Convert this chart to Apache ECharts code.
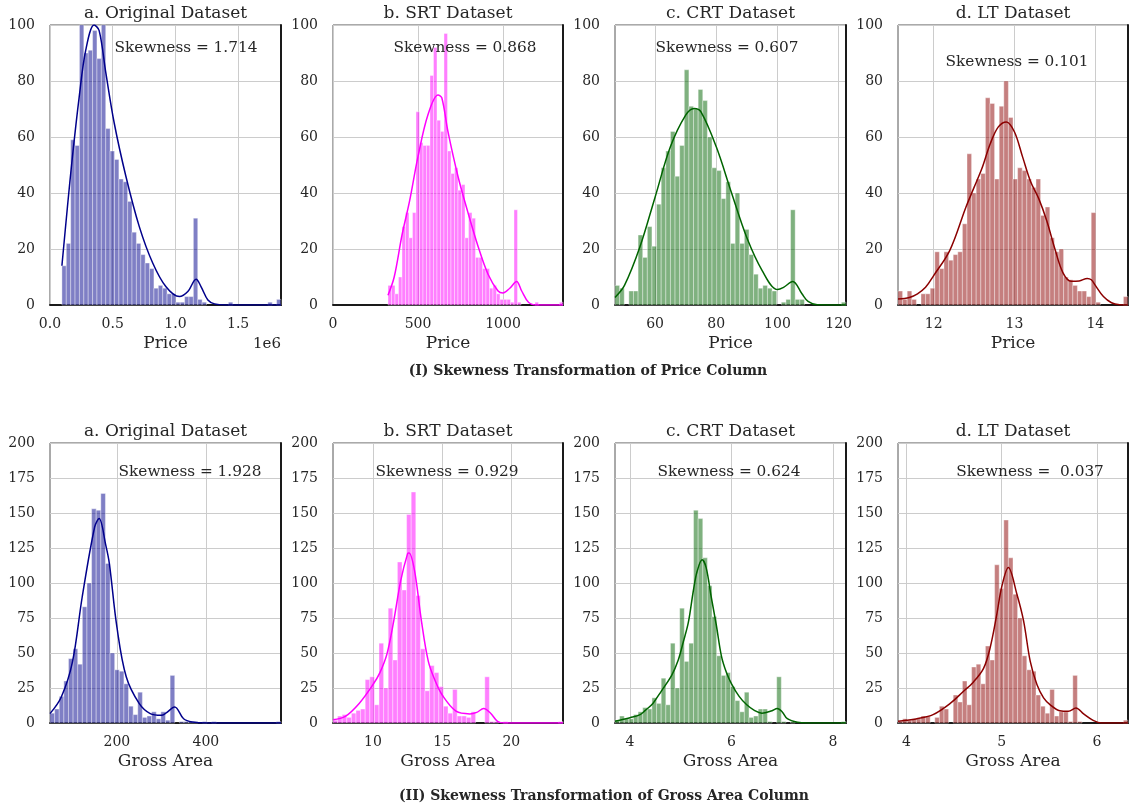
<!DOCTYPE html>
<html><head><meta charset="utf-8">
<script src="https://cdn.jsdelivr.net/npm/echarts@6/dist/echarts.min.js"></script>
<style>html,body{margin:0;padding:0;background:#fff}#c{width:1131px;height:808px}</style>
</head><body><div id="c"></div>
<script>
// ---------------- DATA ----------------
const panelTitles = ['a. Original Dataset', 'b. SRT Dataset', 'c. CRT Dataset', 'd. LT Dataset'];
const rowAxisNames = ['Price', 'Gross Area'];
const rowCaptions = ['(I) Skewness Transformation of Price Column', '(II) Skewness Transformation of Gross Area Column'];
const skewPrice = ['Skewness = 1.714', 'Skewness = 0.868', 'Skewness = 0.607', 'Skewness = 0.101'];
const skewArea = ['Skewness = 1.928', 'Skewness = 0.929', 'Skewness = 0.624', 'Skewness =  0.037'];
const offsetLabelPrice = '1e6';

// y axes
const priceYMax = 100, priceYStep = 20;
const areaYMax = 200, areaYStep = 25;

// x ranges
const xMinMax = [
  [0, 1842000], [0, 1353], [46.9, 122.4], [11.559, 14.404],
  [49.6, 569], [7.108, 23.735], [3.703, 8.257], [3.912, 6.326]
];
// x ticks and their labels
const xTicks = [
  [0, 500000, 1000000, 1500000], [0, 500, 1000], [60, 80, 100, 120], [12, 13, 14],
  [200, 400], [10, 15, 20], [4, 6, 8], [4, 5, 6]
];
const xTickLabels = [
  ['0.0', '0.5', '1.0', '1.5'], ['0', '500', '1000'], ['60', '80', '100', '120'], ['12', '13', '14'],
  ['200', '400'], ['10', '15', '20'], ['4', '6', '8'], ['4', '5', '6']
];

// histogram bins (start, width) and counts
const priceOrigBinStart = 95000, priceOrigBinWidth = 34940;
const priceOrigCounts = [14,22,59,57,103,90,91,98,88,103,63,55,52,45,44,37,26,22,18,15,13,6,7,6,4,4,1,1,3,3,31,2,1,0,0,0,0,0,1,0,0,0,0,0,0,0,0,1,0,2];
const priceSrtBinStart = 323.5, priceSrtBinWidth = 20.59;
const priceSrtCounts = [7,7,4,10,28,33,24,33,69,58,57,57,82,92,66,62,97,55,47,49,41,43,24,33,31,17,17,13,13,6,7,4,2,2,2,1,34,1,0,0,0,0,1,0,0,0,0,0,0,1];
const priceCrtBinStart = 46.9, priceCrtBinWidth = 1.51;
const priceCrtCounts = [7,6,0,5,5,25,17,28,21,36,49,55,62,46,57,84,71,70,77,73,60,49,48,38,44,22,40,22,27,18,11,6,7,6,5,0,1,2,34,2,2,0,0,0,0,0,0,0,0,1];
const priceLtBinStart = 11.559, priceLtBinWidth = 0.0569;
const priceLtCounts = [5,2,5,2,0,4,4,6,19,13,19,16,18,19,29,54,40,45,47,74,72,45,71,80,67,45,49,48,45,42,45,32,35,24,19,20,10,9,7,5,5,3,33,1,0,0,0,0,0,3];

const areaOrigBinStart = 49.6, areaOrigBinWidth = 10.388;
const areaOrigCounts = [7,10,19,30,46,53,42,83,100,153,152,164,114,50,38,37,28,12,6,22,4,5,8,3,8,2,34,0,1,1,1,1,0,1,0,1,0,0,0,0,0,0,0,0,0,0,0,0,0,1];
const areaSrtBinStart = 7.108, areaSrtBinWidth = 0.33254;
const areaSrtCounts = [2,5,6,4,7,9,10,31,33,13,57,25,82,45,115,95,149,165,91,53,23,41,36,26,12,7,24,5,5,4,8,0,0,33,1,1,0,1,0,0,0,0,0,0,0,0,0,0,0,1];
const areaCrtBinStart = 3.703, areaCrtBinWidth = 0.09108;
const areaCrtCounts = [2,5,3,3,6,8,11,10,18,14,32,13,57,25,82,44,57,152,146,118,98,76,48,34,36,26,16,8,22,4,5,10,10,1,0,33,1,0,1,0,0,0,0,0,0,0,0,0,0,1];
const areaLtBinStart = 3.912, areaLtBinWidth = 0.04828;
const areaLtCounts = [1,3,2,3,3,5,5,0,4,12,10,0,20,15,30,13,40,42,28,55,45,113,96,145,118,92,75,48,38,37,20,12,7,24,5,8,8,1,34,1,0,0,0,0,0,0,0,0,0,2];

// KDE curves: [x, y]
const priceOrigKde = [[95000,14],[139000,35],[179000,53],[232000,74],[285000,91],[352000,100],[392000,98],[445000,83],[512000,65],[605000,46],[712000,28],[819000,15],[925000,6.5],[1032000,3],[1099000,4.8],[1165000,9.2],[1205000,6.5],[1259000,1.8],[1312000,0.4],[1400000,0],[1842000,0]];
const priceSrtKde = [[323.5,3.5],[360,10],[406,25],[450,37],[500,53],[559,68],[618,75],[640,74],[676,62],[735,46],[794,33],[853,21],[912,11],[971,5],[1000,4.3],[1040,6],[1080,8.4],[1110,5],[1150,1],[1200,0],[1353,0]];
const priceCrtKde = [[46.9,2.7],[50,7],[55,20.6],[60,38.5],[65,56.5],[70,67.8],[72.8,70.2],[75,69],[80,56.5],[85,40],[90,24],[95,12.3],[100,5.5],[102,6.3],[105,8.4],[108,4],[110,1.3],[113,0.1],[122.4,0]];
const priceLtKde = [[11.559,2.1],[11.7,2.7],[11.8,4],[11.9,6.3],[12.0,10.5],[12.2,19.5],[12.4,35],[12.5,42],[12.6,49],[12.7,57.6],[12.8,63.6],[12.9,65.4],[13.0,61.8],[13.1,52.9],[13.2,44],[13.3,38],[13.4,30],[13.5,20],[13.6,11.5],[13.7,8.5],[13.8,8.6],[13.9,9.5],[13.95,9],[14.0,7],[14.1,3],[14.2,0.8],[14.3,0.1],[14.404,0]];
const areaOrigKde = [[49.6,6.7],[75,18.6],[100,43.5],[122,90],[150,140],[160,146],[175,127],[183,114],[200,68.6],[221,33],[250,14],[275,6.7],[300,5.5],[310,7],[330,11.4],[350,3],[370,0.7],[400,0],[569,0]];
const areaSrtKde = [[7.108,2.4],[8,4.8],[9,14],[10,27.5],[10.5,36],[11,49],[11.5,73],[12,101.5],[12.5,121],[12.6,121.4],[13,109],[13.5,73],[14,44],[14.5,30],[15,20],[16,8.4],[17,6.5],[17.5,7.6],[18,10.3],[18.5,7],[19,1.2],[19.5,0],[23.735,0]];
const areaCrtKde = [[3.703,1.2],[4,3.8],[4.2,6],[4.3,9],[4.45,14],[4.62,23],[4.82,34],[4.95,45],[5.05,58],[5.15,72],[5.25,95],[5.32,108],[5.42,116.6],[5.5,111],[5.6,90],[5.7,70],[5.8,48],[5.9,36],[6.0,28],[6.15,19],[6.3,13],[6.45,9],[6.6,7],[6.8,8.8],[6.9,10.3],[7.0,7.9],[7.1,3.1],[7.3,0.5],[7.5,0],[8.257,0]];
const areaLtKde = [[3.912,1.2],[4.0,1.9],[4.1,2.9],[4.28,6],[4.46,14],[4.6,22.7],[4.7,29],[4.81,39],[4.88,54],[4.95,78],[5.0,97],[5.07,111],[5.16,92],[5.23,73],[5.3,44],[5.37,27.5],[5.44,18],[5.51,13],[5.61,8.8],[5.7,8.4],[5.78,10.7],[5.86,6.5],[5.96,1.9],[6.05,0],[6.326,0]];

// ---------------- STYLE / LAYOUT ----------------
const FONT = '"DejaVu Serif", "Liberation Serif", serif';
const TXT = '#262626';
const barFills = ['rgba(0,0,139,0.5)', 'rgba(255,0,255,0.5)', 'rgba(0,100,0,0.5)', 'rgba(139,0,0,0.5)'];
const lineColors = ['#00008B', '#FF00FF', '#006400', '#8B0000'];
const gridLefts = [50, 333, 615, 898];
const gridWidths = [231, 230, 231, 230];
const rowTops = [25, 443];
const gridH = 280;
const skewPos = [[186, 48], [465, 48], [727, 48], [1017, 62], [190, 472], [447, 472], [729, 472], [1030, 472]];
const captionPos = [[588, 371], [604, 796]];

const binStarts = [priceOrigBinStart, priceSrtBinStart, priceCrtBinStart, priceLtBinStart, areaOrigBinStart, areaSrtBinStart, areaCrtBinStart, areaLtBinStart];
const binWidths = [priceOrigBinWidth, priceSrtBinWidth, priceCrtBinWidth, priceLtBinWidth, areaOrigBinWidth, areaSrtBinWidth, areaCrtBinWidth, areaLtBinWidth];
const allCounts = [priceOrigCounts, priceSrtCounts, priceCrtCounts, priceLtCounts, areaOrigCounts, areaSrtCounts, areaCrtCounts, areaLtCounts];
const allKde = [priceOrigKde, priceSrtKde, priceCrtKde, priceLtKde, areaOrigKde, areaSrtKde, areaCrtKde, areaLtKde];
const allSkew = skewPrice.concat(skewArea);

const grids = [], xAxes = [], yAxes = [], series = [], texts = [];

function makeRender(fill) {
  return function (params, api) {
    const x0 = api.value(0), x1 = api.value(1), c = api.value(2);
    if (!c) return null;
    const p0 = api.coord([x0, c]);
    const p1 = api.coord([x1, 0]);
    const top = Math.max(p0[1], params.coordSys.y);
    return {
      type: 'rect',
      shape: { x: p0[0], y: top, width: p1[0] - p0[0], height: p1[1] - top },
      style: { fill: fill, stroke: 'rgba(255,255,255,0.85)', lineWidth: 0.45 }
    };
  };
}

for (let r = 0; r < 2; r++) {
  for (let c = 0; c < 4; c++) {
    const k = r * 4 + c;
    const yMax = r === 0 ? priceYMax : areaYMax;
    const yStep = r === 0 ? priceYStep : areaYStep;
    grids.push({ left: gridLefts[c], top: rowTops[r], width: gridWidths[c], height: gridH,
      show: true, borderColor: '#555', borderWidth: 1, backgroundColor: '#fff' });
    const ticks = xTicks[k], labs = xTickLabels[k];
    xAxes.push({
      type: 'value', gridIndex: k, min: xMinMax[k][0], max: xMinMax[k][1],
      axisLine: { show: true, onZero: false, lineStyle: { color: '#1a1a1a', width: 2 } },
      axisTick: { show: false, customValues: ticks },
      axisLabel: {
        customValues: ticks, color: TXT, fontFamily: FONT, fontSize: 14, margin: 12,
        formatter: function (v) {
          let best = 0, bd = Infinity;
          for (let i = 0; i < ticks.length; i++) { const d = Math.abs(ticks[i] - v); if (d < bd) { bd = d; best = i; } }
          return labs[best];
        }
      },
      splitLine: { show: true, lineStyle: { color: '#cccccc', width: 1 } }
    });
    yAxes.push({
      type: 'value', gridIndex: k, min: 0, max: yMax, interval: yStep,
      axisLine: { show: false }, axisTick: { show: false },
      axisLabel: { color: TXT, fontFamily: FONT, fontSize: 14, margin: 15 },
      splitLine: { show: true, lineStyle: { color: '#cccccc', width: 1 } }
    });
    yAxes.push({
      type: 'value', gridIndex: k, min: 0, max: yMax, interval: yStep, position: 'right',
      axisLine: { show: true, lineStyle: { color: '#1a1a1a', width: 2 } },
      axisTick: { show: false }, axisLabel: { show: false }, splitLine: { show: false }
    });
    const counts = allCounts[k];
    const data = counts.map((v, i) => [binStarts[k] + i * binWidths[k], binStarts[k] + (i + 1) * binWidths[k], v]);
    series.push({
      type: 'custom', xAxisIndex: k, yAxisIndex: 2 * k, renderItem: makeRender(barFills[c]),
      encode: { x: [0, 1], y: 2 }, data: data, silent: true, z: 2
    });
    series.push({
      type: 'line', xAxisIndex: k, yAxisIndex: 2 * k, data: allKde[k], smooth: 0.35,
      showSymbol: false, symbol: 'none', lineStyle: { color: lineColors[c], width: 1.5 }, z: 3, silent: true
    });
    // texts
    const cx = gridLefts[c] + gridWidths[c] / 2;
    texts.push({ type: 'text', x: cx, y: rowTops[r] - 11, silent: true,
      style: { text: panelTitles[c], fontFamily: FONT, fontSize: 17, fill: TXT, align: 'center', verticalAlign: 'middle', textAlign: 'center', textVerticalAlign: 'middle' } });
    texts.push({ type: 'text', x: cx, y: rowTops[r] + gridH + 39, silent: true,
      style: { text: rowAxisNames[r], fontFamily: FONT, fontSize: 17, fill: TXT, align: 'center', verticalAlign: 'middle', textAlign: 'center', textVerticalAlign: 'middle' } });
    texts.push({ type: 'text', x: skewPos[k][0], y: skewPos[k][1], silent: true, z: 10,
      style: { text: allSkew[k], fontFamily: FONT, fontSize: 15.3, fill: TXT, align: 'center', verticalAlign: 'middle', textAlign: 'center', textVerticalAlign: 'middle' } });
  }
  texts.push({ type: 'text', x: captionPos[r][0], y: captionPos[r][1], silent: true,
    style: { text: rowCaptions[r], fontFamily: FONT, fontSize: 14, fontWeight: 'bold', fill: TXT, align: 'center', verticalAlign: 'middle', textAlign: 'center', textVerticalAlign: 'middle' } });
}
texts.push({ type: 'text', x: gridLefts[0] + gridWidths[0], y: rowTops[0] + gridH + 39, silent: true,
  style: { text: offsetLabelPrice, fontFamily: FONT, fontSize: 15, fill: TXT, align: 'right', verticalAlign: 'middle', textAlign: 'right', textVerticalAlign: 'middle' } });

const chart = echarts.init(document.getElementById('c'), null, { renderer: 'canvas' });
chart.setOption({
  animation: false,
  backgroundColor: '#ffffff',
  grid: grids, xAxis: xAxes, yAxis: yAxes, series: series,
  graphic: { elements: texts }
});
</script>
</body></html>
